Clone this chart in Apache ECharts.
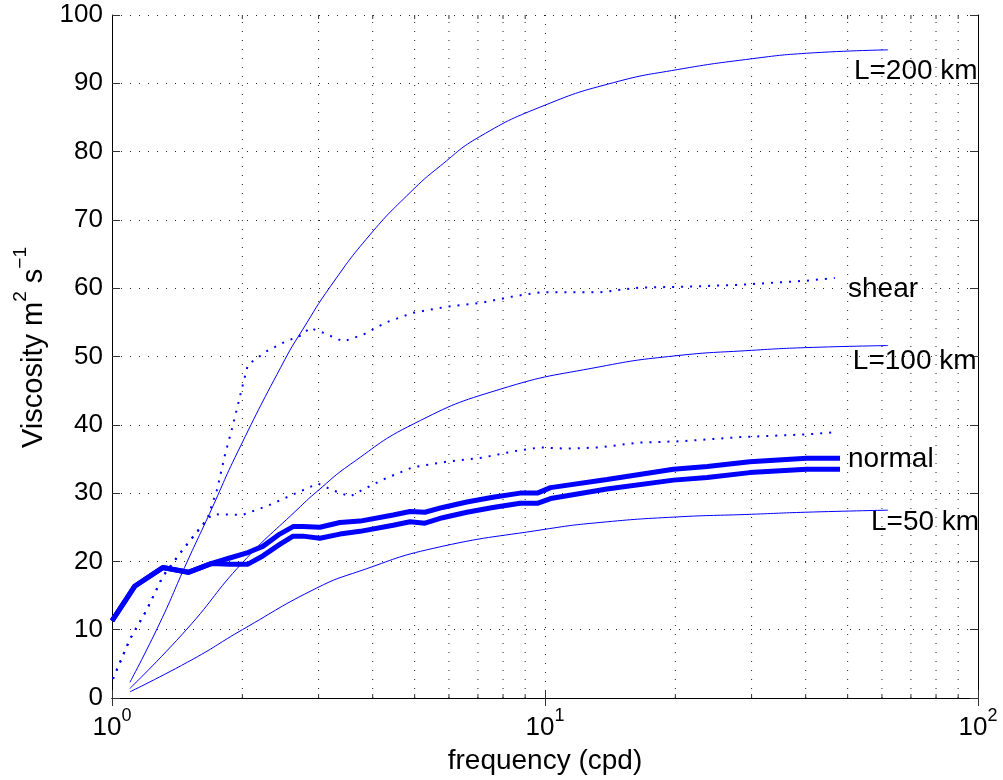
<!DOCTYPE html>
<html>
<head>
<meta charset="utf-8">
<title>Viscosity vs frequency</title>
<script src="https://cdn.jsdelivr.net/npm/echarts@6/dist/echarts.min.js"></script>
<style>
  html, body { margin: 0; padding: 0; background: #fff; }
  #chart { width: 1003px; height: 780px; }
</style>
</head>
<body>
<div id="chart"></div>
<script>
// model curves (thin solid)
const freqL200 = [1.10, 1.29, 1.49, 1.68, 1.95, 2.51, 2.76, 3.19, 3.94, 4.88, 5.73, 7.07, 10.0, 14.4, 20.2, 30.1, 40.2, 62];
const viscL200 = [2.3, 11.0, 19.9, 27.0, 36.0, 49.6, 54.0, 60.2, 67.8, 74.0, 77.9, 82.2, 86.8, 90.1, 92.0, 93.6, 94.4, 94.9];

const freqL100 = [1.10, 1.49, 2.0, 2.72, 2.97, 3.55, 4.96, 7.87, 13.4, 20.0, 30.0, 40.0, 62];
const viscL100 = [1.4, 10.1, 19.8, 28.0, 30.2, 34.2, 40.1, 45.2, 48.5, 50.1, 50.9, 51.3, 51.6];

const freqL50 = [1.10, 1.54, 2.0, 2.97, 3.74, 5.51, 10.0, 13.4, 20.0, 30.0, 40.0, 62];
const viscL50 = [0.9, 5.7, 10.0, 16.1, 18.6, 21.9, 24.7, 25.7, 26.5, 26.9, 27.2, 27.5];

// normal estimates (thick solid)
const freqNormal = [1.0, 1.13, 1.31, 1.50, 1.70, 1.87, 2.06, 2.23, 2.44, 2.62, 2.76, 3.02, 3.36, 3.74, 4.46, 4.88, 5.28, 5.8, 6.6, 7.58, 8.76, 9.6, 10.3, 13.9, 19.8, 23.7, 29.7, 40.2, 48];
const viscNormalA = [11.3, 16.4, 19.1, 18.4, 19.7, 20.5, 21.3, 22.2, 24.0, 25.1, 25.1, 25.0, 25.7, 25.9, 26.8, 27.3, 27.2, 27.9, 28.7, 29.4, 30.0, 30.0, 30.8, 32.0, 33.5, 33.9, 34.6, 35.1, 35.1];
const viscNormalB = [11.3, 16.4, 19.1, 18.4, 19.7, 19.6, 19.6, 20.8, 22.5, 23.7, 23.7, 23.4, 24.0, 24.4, 25.3, 25.8, 25.6, 26.4, 27.2, 27.9, 28.5, 28.5, 29.2, 30.6, 31.9, 32.3, 33.0, 33.5, 33.5];

// dotted estimates
const freqDotLow = [1.005, 1.10, 1.205, 1.31, 1.46, 1.66, 1.71, 2.0, 2.28, 2.62, 2.99, 3.24, 3.55, 3.74, 4.23, 4.96, 5.94, 7.18, 8.44, 9.74, 11.2, 13.4, 16.5, 20.8, 28.2, 40.2, 46.7];
const viscDotLow = [2.8, 8.6, 13.0, 17.8, 21.8, 26.2, 26.9, 26.8, 28.1, 29.8, 31.4, 30.4, 29.5, 30.3, 32.0, 33.8, 34.6, 35.2, 36.1, 36.7, 36.5, 36.7, 37.4, 37.6, 38.2, 38.6, 38.9];

const freqShear = [1.005, 1.10, 1.205, 1.31, 1.46, 1.66, 1.75, 1.82, 1.90, 2.0, 2.06, 2.28, 2.48, 2.76, 2.86, 3.07, 3.42, 3.8, 4.3, 4.96, 5.94, 7.18, 8.44, 9.74, 11.2, 13.4, 16.5, 20.8, 28.2, 40.2, 46.7];
const viscShear = [2.8, 8.6, 13.0, 17.8, 21.8, 26.2, 30.6, 35.4, 39.8, 45.6, 48.8, 50.8, 52.0, 53.2, 54.2, 53.5, 52.2, 53.2, 55.0, 56.4, 57.3, 57.9, 58.8, 59.4, 59.4, 59.4, 60.1, 60.2, 60.5, 61.1, 61.5];

// annotations: text, frequency of left edge, viscosity
const labelTexts = ['L=200 km', 'shear', 'L=100 km', 'normal', 'L=50 km'];
const labelFreq = [51.7, 50.1, 51.4, 50.1, 56.6];
const labelVisc = [91.7, 59.8, 49.3, 34.9, 25.7];

// minor log grid positions
const minorFreq = [2, 3, 4, 5, 6, 7, 8, 9, 20, 30, 40, 50, 60, 70, 80, 90];

const FONT = '"Liberation Sans", Arial, Helvetica, sans-serif';
const BLUE = '#0000ff';
const gridDash = { color: '#222', width: 1, type: [1, 8] };

const zip = (xs, ys) => xs.map((x, i) => [x, ys[i]]);

const chart = echarts.init(document.getElementById('chart'));

const solid = (name, xs, ys, width, smooth) => ({
  name,
  type: 'line',
  data: zip(xs, ys),
  showSymbol: false,
  symbol: 'none',
  smooth: smooth,
  lineStyle: { color: BLUE, width: width },
  z: 3
});

const dotted = (name, xs, ys) => ({
  name,
  type: 'line',
  data: zip(xs, ys),
  showSymbol: false,
  symbol: 'none',
  lineStyle: { color: BLUE, width: 2, type: [2, 7], cap: 'butt' },
  z: 3
});

const logLabel = (v) => '{b|10}{s|' + Math.round(Math.log10(v)) + '}';

chart.setOption({
  animation: false,
  backgroundColor: '#fff',
  grid: { left: 112, right: 25, top: 15, bottom: 81 },
  xAxis: [
    {
      type: 'log',
      logBase: 10,
      min: 1,
      max: 100,
      name: 'frequency (cpd)',
      nameLocation: 'middle',
      nameGap: 49,
      nameTextStyle: { fontFamily: FONT, fontSize: 28, color: '#000' },
      axisLine: { show: true, lineStyle: { color: '#000', width: 1 } },
      axisTick: { show: true, inside: true, length: 8, lineStyle: { color: '#333' } },
      axisLabel: {
        margin: 9,
        formatter: logLabel,
        rich: {
          b: { fontFamily: FONT, fontSize: 26, color: '#000', padding: [8, 0, 0, 0] },
          s: { fontFamily: FONT, fontSize: 18, color: '#000', verticalAlign: 'top' }
        }
      },
      splitLine: { show: true, lineStyle: gridDash }
    },
    {
      type: 'log',
      logBase: 10,
      min: 1,
      max: 100,
      position: 'top',
      axisLine: { show: true, lineStyle: { color: '#000', width: 1 } },
      axisTick: { show: true, inside: true, length: 8, lineStyle: { color: '#333' } },
      axisLabel: { show: false },
      splitLine: { show: false }
    }
  ],
  yAxis: [
    {
      type: 'value',
      min: 0,
      max: 100,
      interval: 10,
      name: '{a|Viscosity m}{s|2}{a| s}{s|−1}',
      nameLocation: 'middle',
      nameRotate: 90,
      nameGap: 57,
      nameTextStyle: {
        padding: [0, 0, 0, 18],
        rich: {
          a: { fontFamily: FONT, fontSize: 29, color: '#000', padding: [8, 0, 0, 0] },
          s: { fontFamily: FONT, fontSize: 19, color: '#000', verticalAlign: 'top' }
        }
      },
      axisLine: { show: true, lineStyle: { color: '#000', width: 1 } },
      axisTick: { show: true, inside: true, length: 8, lineStyle: { color: '#333' } },
      axisLabel: { margin: 9, fontFamily: FONT, fontSize: 26, color: '#000' },
      splitLine: { show: true, lineStyle: gridDash }
    },
    {
      type: 'value',
      min: 0,
      max: 100,
      interval: 10,
      position: 'right',
      axisLine: { show: true, lineStyle: { color: '#000', width: 1 } },
      axisTick: { show: true, inside: true, length: 8, lineStyle: { color: '#333' } },
      axisLabel: { show: false },
      splitLine: { show: false }
    }
  ],
  series: [
    // minor log grid lines and ticks
    {
      type: 'custom',
      silent: true,
      z: 1,
      clip: false,
      data: minorFreq.map(f => [f, 0]),
      encode: { x: 0, y: 1 },
      renderItem: (params, api) => {
        const f = api.value(0);
        const p0 = api.coord([f, 0]);
        const p1 = api.coord([f, 100]);
        return {
          type: 'group',
          children: [
            {
              type: 'line',
              shape: { x1: p0[0], y1: p0[1], x2: p1[0], y2: p1[1] },
              style: { stroke: '#222', lineWidth: 1, lineDash: [1, 8] }
            },
            {
              type: 'line',
              shape: { x1: p0[0], y1: p0[1], x2: p0[0], y2: p0[1] - 4 },
              style: { stroke: '#333', lineWidth: 1 }
            },
            {
              type: 'line',
              shape: { x1: p1[0], y1: p1[1], x2: p1[0], y2: p1[1] + 4 },
              style: { stroke: '#333', lineWidth: 1 }
            }
          ]
        };
      }
    },
    solid('L=200 km', freqL200, viscL200, 1, 0.5),
    solid('L=100 km', freqL100, viscL100, 1, 0.5),
    solid('L=50 km', freqL50, viscL50, 1, 0.5),
    dotted('shear', freqShear, viscShear),
    dotted('dotted low', freqDotLow, viscDotLow),
    solid('normal a', freqNormal, viscNormalA, 5, false),
    solid('normal b', freqNormal, viscNormalB, 5, false),
    // text annotations
    {
      type: 'scatter',
      data: [],
      silent: true,
      markPoint: {
        symbol: 'circle',
        symbolSize: 0,
        silent: true,
        label: {
          show: true,
          position: 'right',
          distance: 0,
          fontFamily: FONT,
          fontSize: 28,
          color: '#000',
          formatter: p => p.name
        },
        data: labelTexts.map((t, i) => ({ name: t, coord: [labelFreq[i], labelVisc[i]] }))
      }
    }
  ]
});
</script>
</body>
</html>
